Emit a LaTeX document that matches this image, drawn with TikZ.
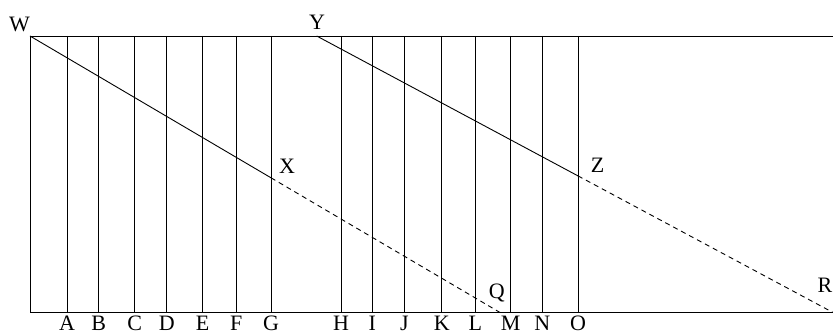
\documentclass[tikz,border=0pt]{standalone}
\usepackage{fontspec}
\setmainfont{Liberation Serif}
\begin{document}
\begin{tikzpicture}[x=1pt,y=-1pt,
  line/.style={line width=0.9pt,black},
  dashline/.style={line width=0.9pt,black,dash pattern=on 5pt off 4pt},
  lbl/.style={anchor=base,inner sep=0pt,font=\fontsize{22}{24}\selectfont}]
\useasboundingbox (0,0) rectangle (833,336);
% frame
\coordinate (tl) at (30,36);
\coordinate (tr) at (833,36);
\coordinate (bl) at (30,312.5);
\coordinate (br) at (833,312.5);
\draw[line] (tr) -- (tl) -- (bl) -- (br);
% verticals with labels
\foreach \n/\xx in {A/67,B/98.7,C/134.7,D/166.7,E/202.7,F/236.3,G/271,H/341,I/372.3,J/404.3,K/441.7,L/475.3,M/510.7,N/542.3,O/578}{
  \coordinate (t\n) at (\xx,36);
  \coordinate (b\n) at (\xx,312.5);
  \draw[line] (t\n) -- (b\n);
  \node[lbl] (l\n) at (\xx,331) {\n};
}
% diagonals
\coordinate (w) at (30,36);
\coordinate (x) at (271,177.8);
\coordinate (q) at (500,312.5);
\coordinate (y) at (316.7,36);
\coordinate (z) at (578,175.9);
\coordinate (r) at (833,312.5);
\draw[line] (w) -- (x);
\draw[dashline] (x) -- (q);
\draw[line] (y) -- (z);
\draw[dashline] (z) -- (r);
% point labels
\node[lbl] (lW) at (19.5,31.7) {W};
\node[lbl] (lY) at (317,29.5) {Y};
\node[lbl] (lX) at (287,174) {X};
\node[lbl] (lZ) at (597.7,173) {Z};
\node[lbl] (lQ) at (496.7,298.5) {Q};
\node[lbl] (lR) at (825,292.7) {R};
\end{tikzpicture}
\end{document}
